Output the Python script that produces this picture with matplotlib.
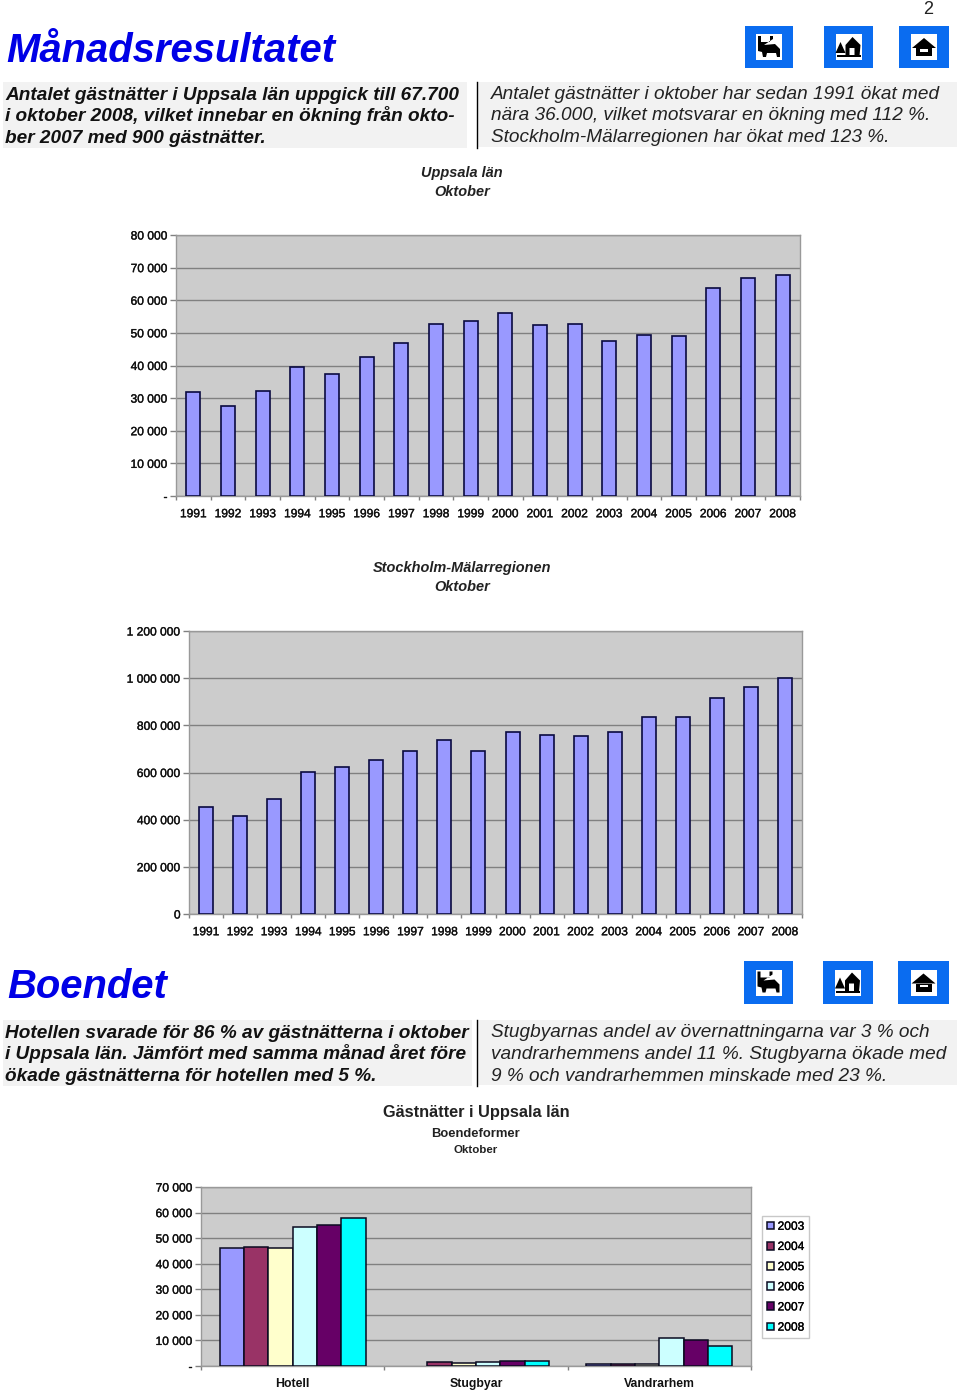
import matplotlib
matplotlib.use("Agg")
import matplotlib.pyplot as plt
import matplotlib.patheffects as pe
from matplotlib.patches import Rectangle, Polygon
from matplotlib.ticker import FixedLocator

plt.rcParams['font.family'] = ['Liberation Sans', 'DejaVu Sans']

W, H = 960, 1392
PX = 72 / 100  # points per pixel

years = [str(y) for y in range(1991, 2009)]
uppsala = [32000, 27700, 32300, 39500, 37400, 42600, 46900, 52700, 53700,
           56000, 52400, 52700, 47500, 49300, 49000, 63800, 66800, 67700]
stockholm = [454000, 415000, 488000, 602000, 623000, 653000, 691000, 738000, 691000,
             772000, 759000, 755000, 772000, 835000, 835000, 916000, 963000, 1000000]
uppsala_ticks = [0, 10000, 20000, 30000, 40000, 50000, 60000, 70000, 80000]
uppsala_labels = ['-', '10 000', '20 000', '30 000', '40 000', '50 000', '60 000', '70 000', '80 000']
stockholm_ticks = [0, 200000, 400000, 600000, 800000, 1000000, 1200000]
stockholm_labels = ['0', '200 000', '400 000', '600 000', '800 000', '1 000 000', '1 200 000']

kinds = ['Hotell', 'Stugbyar', 'Vandrarhem']
lodging_years = ['2003', '2004', '2005', '2006', '2007', '2008']
lodging_colors = ['#9999ff', '#993366', '#ffffcc', '#ccffff', '#660066', '#00ffff']
hotell = [46200, 46600, 46200, 54500, 55000, 58000]
stugbyar = [float('nan'), 1500, 1000, 1500, 2000, 2000]
vandrarhem = [800, 700, 600, 10900, 10000, 7900]
lodging_ticks = [0, 10000, 20000, 30000, 40000, 50000, 60000, 70000]
lodging_labels = ['-', '10 000', '20 000', '30 000', '40 000', '50 000', '60 000', '70 000']

fig = plt.figure(figsize=(W / 100, H / 100), dpi=100, facecolor='white')

# page overlay in pixel coordinates
pg = fig.add_axes([0, 0, 1, 1], zorder=0)
pg.set_xlim(0, W)
pg.set_ylim(H, 0)
pg.axis('off')

HEAVY = [pe.withStroke(linewidth=0.25, foreground='#111111')]


def txt(x, y, s, px, **kw):
    kw.setdefault('va', 'center')
    kw.setdefault('color', 'black')
    pg.text(x, y, s, fontsize=px * PX, **kw)


def panel(x0, y0, x1, y1):
    pg.add_patch(Rectangle((x0, y0), x1 - x0, y1 - y0, fc='#f2f2f2', ec='none'))


def sign(x0, y0, x1, y1, kind):
    pg.add_patch(Rectangle((x0, y0), x1 - x0, y1 - y0, fc='#0a6cf0', ec='none'))
    cx, cy = (x0 + x1) / 2, (y0 + y1) / 2
    pg.add_patch(Rectangle((cx - 13, cy - 13), 26, 26, fc='white', ec='none'))
    if kind == 'bed':
        pg.add_patch(Polygon([(cx - 11, cy - 11), (cx - 8, cy - 11), (cx - 8, cy - 5), (cx + 1, cy - 5),
                              (cx + 1, cy - 11), (cx + 4, cy - 11), (cx + 4, cy - 8), (cx - 5, cy - 2),
                              (cx + 6, cy - 3), (cx + 11, cy + 2), (cx + 11, cy + 10), (cx + 8, cy + 10),
                              (cx + 7, cy + 6), (cx - 2, cy + 6), (cx - 3, cy + 10), (cx - 6, cy + 10),
                              (cx - 7, cy + 5), (cx - 11, cy + 4)], fc='black', ec='none'))
    elif kind == 'cabin':
        pg.add_patch(Polygon([(cx - 3, cy - 2), (cx + 4, cy - 10), (cx + 12, cy - 2), (cx + 11, cy + 9),
                              (cx + 6, cy + 9), (cx + 6, cy + 1), (cx + 1, cy + 1), (cx + 1, cy + 9),
                              (cx - 3, cy + 9)], fc='black', ec='none'))
        pg.add_patch(Polygon([(cx - 8, cy - 5), (cx - 3, cy + 6), (cx - 13, cy + 6)], fc='black', ec='none'))
        pg.add_patch(Rectangle((cx - 12, cy + 8), 24, 2, fc='black', ec='none'))
    else:
        pg.add_patch(Polygon([(cx - 12, cy + 1), (cx, cy - 9), (cx + 12, cy + 1)], fc='black', ec='none'))
        pg.add_patch(Rectangle((cx - 8, cy + 1), 16, 8, fc='black', ec='none'))
        pg.add_patch(Rectangle((cx - 4, cy + 2), 8, 2.5, fc='white', ec='none'))


# top block
txt(928, 10, '2', 18, ha='center', color='#222222')
txt(6, 51, 'Månadsresultatet', 40, color='#0000e6', weight='bold', style='italic')
sign(745, 26, 793, 68, 'bed')
sign(824, 26, 873, 68, 'cabin')
sign(899, 26, 949, 68, 'home')
panel(3, 82, 467, 148)
panel(478, 82, 957, 147)
pg.plot([477, 477], [82, 148], color='black', lw=1)
for y, s in zip([99.5, 121, 143], ['Antalet gästnätter i Uppsala län uppgick till 67.700',
                                   'i oktober 2008, vilket innebar en ökning från okto-',
                                   'ber 2007 med 900 gästnätter.']):
    txt(5, y, s, 19, style='italic', weight='bold', color='#111111', va='baseline')
for y, s in zip([99, 120, 142], ['Antalet gästnätter i oktober har sedan 1991 ökat med',
                                 'nära 36.000, vilket motsvarar en ökning med 112 %.',
                                 'Stockholm-Mälarregionen har ökat med 123 %.']):
    txt(491, y, s, 19, style='italic', color='#222222', va='baseline')
txt(462, 173, 'Uppsala län', 14.5, ha='center', style='italic', weight='bold', color='#222222')
txt(462, 192, 'Oktober', 14.5, ha='center', style='italic', weight='bold', color='#222222')
txt(462, 568, 'Stockholm-Mälarregionen', 14.5, ha='center', style='italic', weight='bold', color='#222222')
txt(462, 587, 'Oktober', 14.5, ha='center', style='italic', weight='bold', color='#222222')

# lower block
txt(7, 987, 'Boendet', 40, color='#0000e6', weight='bold', style='italic')
sign(744, 961, 793, 1004, 'bed')
sign(823, 961, 873, 1004, 'cabin')
sign(898, 961, 949, 1004, 'home')
panel(3, 1020, 472, 1086)
panel(478, 1020, 957, 1085)
pg.plot([477, 477], [1020, 1086], color='black', lw=1)
for y, s in zip([1037.5, 1059, 1081], ['Hotellen svarade för 86 % av gästnätterna i oktober',
                                       'i Uppsala län. Jämfört med samma månad året före',
                                       'ökade gästnätterna för hotellen med 5 %.']):
    txt(5, y, s, 19, style='italic', weight='bold', color='#111111', va='baseline')
for y, s in zip([1037, 1059, 1081], ['Stugbyarnas andel av övernattningarna var 3 % och',
                                     'vandrarhemmens andel 11 %. Stugbyarna ökade med',
                                     '9 % och vandrarhemmen minskade med 23 %.']):
    txt(491, y, s, 19, style='italic', color='#222222', va='baseline')
txt(476, 1112, 'Gästnätter i Uppsala län', 16.4, ha='center', weight='bold', color='#222222')
txt(476, 1134, 'Boendeformer', 13, ha='center', weight='bold', color='#222222')
txt(476, 1150, 'Oktober', 11.5, ha='center', weight='bold', color='#222222')


def chart_axes(left, right, top, bottom, ymax, yticks, ylabels, fs, pad):
    ax = fig.add_axes([left / W, 1 - bottom / H, (right - left) / W, (bottom - top) / H],
                      facecolor='#cccccc', zorder=1)
    ax.set_ylim(0, ymax)
    ax.set_yticks(yticks)
    ax.set_yticklabels(ylabels, fontsize=fs * PX, color='#111111', path_effects=HEAVY)
    ax.grid(axis='y', color='#808080', lw=1)
    ax.set_axisbelow(True)
    for s in ax.spines.values():
        s.set_color('#999999')
        s.set_linewidth(1)
    ax.tick_params(axis='y', length=4, width=1, color='#808080', pad=pad)
    ax.tick_params(axis='x', which='minor', length=3, width=1, color='#808080')
    ax.tick_params(axis='x', which='major', length=0, pad=pad + 6.8)
    return ax


def year_chart(left, right, top, bottom, values, ymax, yticks, ylabels):
    ax = chart_axes(left, right, top, bottom, ymax, yticks, ylabels, 12, 2)
    xs = list(range(len(years)))
    ax.bar(xs, values, width=0.41, color='#9999ff', edgecolor='#0a0a40', linewidth=1.2, zorder=3)
    ax.set_xlim(-0.5, len(years) - 0.5)
    ax.set_xticks(xs)
    ax.set_xticklabels(years, fontsize=12 * PX, color='#111111', path_effects=HEAVY)
    ax.xaxis.set_minor_locator(FixedLocator([i - 0.5 for i in range(len(years) + 1)]))
    return ax


year_chart(176, 800, 235, 496, uppsala, 80000, uppsala_ticks, uppsala_labels)
year_chart(189, 802, 631, 914, stockholm, 1200000, stockholm_ticks, stockholm_labels)

ax3 = chart_axes(201, 751, 1187, 1366, 70000, lodging_ticks, lodging_labels, 12, 2)
width = 0.133
series = list(zip(hotell, stugbyar, vandrarhem))
handles = []
for i, (yr, col, vals) in enumerate(zip(lodging_years, lodging_colors, series)):
    xs = [k + (i - 2.5) * width for k in range(len(kinds))]
    handles.append(ax3.bar(xs, vals, width=width, color=col, edgecolor='#0a0a20',
                           linewidth=1.1, zorder=3, label=yr))
ax3.set_xlim(-0.5, 2.5)
ax3.set_xticks(range(len(kinds)))
ax3.set_xticklabels(kinds, fontsize=12.3 * PX, color='#111111', weight='bold')
ax3.xaxis.set_minor_locator(FixedLocator([-0.5, 0.5, 1.5, 2.5]))
ax3.tick_params(axis='x', which='major', pad=8.5)
leg = fig.legend(handles=handles, loc='upper left',
                 bbox_to_anchor=(762 / W, 1 - 1216 / H), borderaxespad=0,
                 prop={'size': 12 * PX}, handlelength=0.6, handleheight=0.6,
                 handletextpad=0.3, labelspacing=0.68, borderpad=0.4,
                 frameon=True, fancybox=False, framealpha=1, edgecolor='#c8c8c8')
leg.get_frame().set_linewidth(1)
for t in leg.get_texts():
    t.set_path_effects(HEAVY)

fig.savefig('out.png', dpi=100)
